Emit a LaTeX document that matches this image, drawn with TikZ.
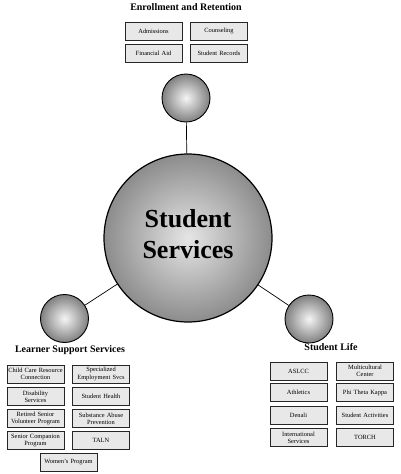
\documentclass[tikz,border=0pt]{standalone}
\usepackage{fontspec}
\setmainfont{Liberation Serif}
\begin{document}
\begin{tikzpicture}[x=1pt,y=-1pt,
  sbox/.style={draw=black!85, line width=0.8pt, fill=black!9, minimum width=57pt, minimum height=18pt, inner sep=0pt, align=center, font=\fontsize{6.4}{7.2}\selectfont, text width=57pt},
  ttl/.style={font=\fontsize{10}{12}\selectfont\bfseries, inner sep=0pt},
  smallc/.style={circle, draw=black, line width=0.9pt, minimum size=48pt, inner sep=0pt, inner color=black!4, outer color=black!50},
  bigc/.style={circle, draw=black, line width=1.2pt, minimum size=168pt, inner sep=0pt, inner color=black!10, outer color=black!45},
  link/.style={draw=black, line width=0.7pt}]
\useasboundingbox (0,0) rectangle (400,474);
% circles
\node[bigc] (main) at (188,238) {};
\node[smallc] (ctop) at (186,98) {};
\node[smallc] (cleft) at (64.5,318.5) {};
\node[smallc] (cright) at (309,319) {};
\draw[link] (ctop) -- (main);
\draw[link] (cleft) -- (main);
\draw[link] (cright) -- (main);
\node[font=\fontsize{26}{31}\selectfont\bfseries, align=center, inner sep=0pt] (mtxt) at (188,234) {Student\\Services};
% top group
\node[ttl] (t1) at (186,7) {Enrollment and Retention};
\node[sbox] (b1) at (153.5,31) {Admissions};
\node[sbox] (b2) at (219,31) {Counseling};
\node[sbox] (b3) at (153.5,53.5) {Financial Aid};
\node[sbox] (b4) at (219,53.5) {Student Records};
% left group
\node[ttl] (t2) at (70,350.5) {Learner Support Services};
\node[sbox] (l1) at (35.5,374) {Child Care Resource\\Connection};
\node[sbox] (l2) at (101,374) {Specialized\\Employment Svcs};
\node[sbox] (l3) at (35.5,396.5) {Disability\\Services};
\node[sbox] (l4) at (101,396.5) {Student Health};
\node[sbox] (l5) at (35.5,418.5) {Retired Senior\\Volunteer Program};
\node[sbox] (l6) at (101,418.5) {Substance Abuse\\Prevention};
\node[sbox] (l7) at (35.5,440.5) {Senior Companion\\Program};
\node[sbox] (l8) at (101,440.5) {TALN};
\node[sbox] (l9) at (68.5,462.5) {Women's Program};
% right group
\node[ttl] (t3) at (331,347) {Student Life};
\node[sbox] (r1) at (298.5,371) {ASLCC};
\node[sbox] (r2) at (365,371) {Multicultural\\Center};
\node[sbox] (r3) at (298.5,392.5) {Athletics};
\node[sbox] (r4) at (365,392.5) {Phi Theta Kappa};
\node[sbox] (r5) at (298.5,415) {Denali};
\node[sbox] (r6) at (365,415) {Student Activities};
\node[sbox] (r7) at (298.5,437.5) {International\\Services};
\node[sbox] (r8) at (365,437.5) {TORCH};
\end{tikzpicture}
\end{document}
